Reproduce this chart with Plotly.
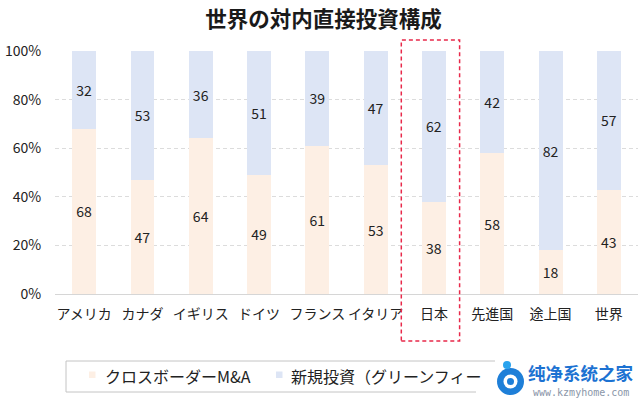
import plotly.graph_objects as go

categories = ["アメリカ", "カナダ", "イギリス", "ドイツ", "フランス", "イタリア", "日本", "先進国", "途上国", "世界"]
ma_share = [68, 47, 64, 49, 61, 53, 38, 58, 18, 43]
green_share = [32, 53, 36, 51, 39, 47, 62, 42, 82, 57]
y_ticks = [0, 20, 40, 60, 80, 100]
y_tick_labels = ["0%", "20%", "40%", "60%", "80%", "100%"]
highlight = "日本"
series_names = ["クロスボーダーM&A", "新規投資（グリーンフィールド）"]
legend_visible_text = ["クロスボーダーM&A", "新規投資（グリーンフィー"]  # right part hidden under watermark

FONT = "Noto Sans CJK JP"
C_MA = "#FDEFE4"
C_GF = "#DDE5F5"

W, H = 640, 403
L, R, T, B = 55, 2, 51, 109
PW, PH = W - L - R, H - T - B


def px(x):
    return (x - L) / PW


def py(y):
    return (H - B - y) / PH


fig = go.Figure()
for vals, name, col in [(ma_share, series_names[0], C_MA), (green_share, series_names[1], C_GF)]:
    fig.add_trace(go.Bar(
        x=categories, y=vals, name=name,
        marker=dict(color=col, line=dict(width=0)),
        text=vals, textposition="inside", insidetextanchor="middle",
        textangle=0, constraintext="none",
        textfont=dict(size=14, color="#222222", family=FONT),
        showlegend=False, hoverinfo="skip",
    ))

# highlight box around Japan
idx = categories.index(highlight)
n = len(categories)
fig.add_shape(type="rect", xref="paper", yref="paper",
              x0=idx / n - 0.006, x1=(idx + 1) / n - 0.006, y0=py(341), y1=py(40),
              line=dict(color="#E8294A", width=1.5, dash="4px,3px"),
              fillcolor="rgba(0,0,0,0)", layer="above")

# manual legend (box partly covered by the watermark)
lg_top, lg_bot, lg_left = 361, 392, 66
for (x0, y0, x1, y1) in [(lg_left, lg_top, 495, lg_top), (lg_left, lg_bot, 476, lg_bot),
                         (lg_left, lg_top, lg_left, lg_bot)]:
    fig.add_shape(type="line", xref="paper", yref="paper",
                  x0=px(x0), y0=py(y0), x1=px(x1), y1=py(y1),
                  line=dict(color="#C4C4C4", width=1))
for sx, tx, col, txt in [(89, 103, C_MA, legend_visible_text[0]), (276, 289, C_GF, legend_visible_text[1])]:
    fig.add_shape(type="rect", xref="paper", yref="paper",
                  x0=px(sx), x1=px(sx + 6.5), y0=py(378), y1=py(371.5),
                  fillcolor=col, line=dict(width=0))
    fig.add_annotation(xref="paper", yref="paper", x=px(tx), y=py(376),
                       xanchor="left", yanchor="middle", text=txt, showarrow=False,
                       font=dict(size=16, color="#222222", family=FONT))

# watermark
fig.add_shape(type="circle", xref="paper", yref="paper",
              x0=px(497), x1=px(524), y0=py(395), y1=py(368),
              fillcolor="#1E7FD8", line=dict(width=0))
fig.add_shape(type="circle", xref="paper", yref="paper",
              x0=px(503.5), x1=px(517.5), y0=py(388.5), y1=py(374.5),
              fillcolor="white", line=dict(width=0))
fig.add_shape(type="circle", xref="paper", yref="paper",
              x0=px(507), x1=px(514), y0=py(385), y1=py(378),
              fillcolor="#1E7FD8", line=dict(width=0))
fig.add_shape(type="circle", xref="paper", yref="paper",
              x0=px(503), x1=px(511), y0=py(369), y1=py(361),
              fillcolor="#29A3EE", line=dict(width=0))
fig.add_annotation(xref="paper", yref="paper", x=px(581), y=py(386),
                   text="<b>纯净系统之家</b>", showarrow=False, xanchor="center", yanchor="bottom",
                   borderpad=0,
                   font=dict(size=17.5, color="#1C72D2", family="Noto Sans CJK SC"))
fig.add_annotation(xref="paper", yref="paper", x=px(581), y=py(386),
                   text="www.kzmyhome.com", showarrow=False, xanchor="center", yanchor="top",
                   borderpad=0,
                   font=dict(size=10, color="#8A96A8", family="DejaVu Sans Mono"))

fig.update_layout(
    width=W, height=H,
    margin=dict(l=L, r=R, t=T, b=B, autoexpand=False),
    paper_bgcolor="white", plot_bgcolor="white",
    barmode="stack", bargap=0.59,
    title=dict(text="<b>世界の対内直接投資構成</b>", x=px(323.5), xref="paper", xanchor="center",
               y=(H - 19) / H, yref="container", yanchor="middle",
               font=dict(size=21.5, color="#1a1a1a", family=FONT)),
    font=dict(family=FONT, color="#222222"),
    showlegend=False, hovermode=False,
    xaxis=dict(showgrid=False, showline=True, linecolor="#D6D6D6", linewidth=1.2,
               tickfont=dict(size=14, color="#222222"), ticks="outside", ticklen=7,
               tickcolor="rgba(0,0,0,0)", fixedrange=True),
    yaxis=dict(range=[0, 100], tickvals=y_ticks, ticktext=y_tick_labels,
               showgrid=True, gridcolor="#DCDCDC", griddash="4px,3px", gridwidth=1,
               zeroline=False, ticks="outside", ticklen=10, tickcolor="rgba(0,0,0,0)",
               tickfont=dict(size=14, color="#222222"), fixedrange=True),
)

fig.write_html("out.html", config={"displayModeBar": False},
               post_script="document.body.style.margin='0';document.body.style.overflow='hidden';")
